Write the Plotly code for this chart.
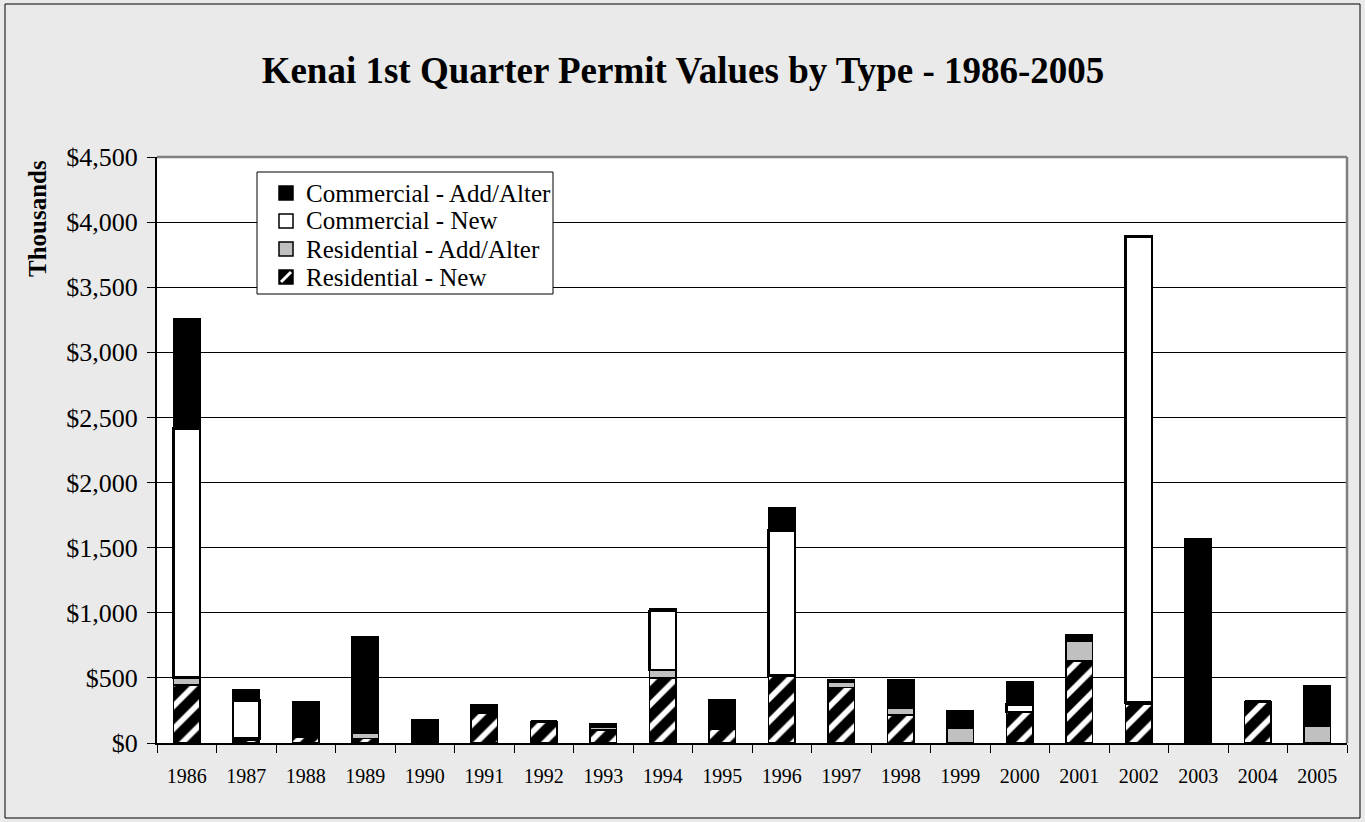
import plotly.graph_objects as go

years = [str(y) for y in range(1986, 2006)]
res_new = [445, 20, 50, 35, 0, 235, 165, 100, 500, 105, 515, 425, 215, 0, 240, 630, 297, 0, 320, 0]
res_aa = [57, 15, 0, 40, 0, 0, 0, 25, 60, 10, 5, 45, 55, 120, 0, 155, 15, 0, 0, 130]
com_new = [1913, 290, 0, 0, 0, 0, 0, 0, 455, 0, 1113, 0, 0, 0, 55, 0, 3578, 0, 0, 0]
com_aa = [840, 85, 265, 740, 180, 55, 0, 25, 15, 215, 175, 15, 215, 128, 177, 45, 0, 1565, 0, 308]
y_ticks = list(range(0, 4501, 500))
y_tick_labels = ["$0" if v == 0 else "${:,}".format(v) for v in y_ticks]
legend_names = ["Commercial - Add/Alter", "Commercial - New",
                "Residential - Add/Alter", "Residential - New"]

FONT = "Liberation Serif"
line = dict(color="black", width=1.5)

fig = go.Figure()
fig.add_trace(go.Bar(x=years, y=res_new, name=legend_names[3],
                     marker=dict(color="black", line=line,
                                 pattern=dict(shape="/", bgcolor="black", fgcolor="white",
                                              fgopacity=1, size=16, solidity=0.35,
                                              fillmode="replace"))))
fig.add_trace(go.Bar(x=years, y=res_aa, name=legend_names[2],
                     marker=dict(color="#C0C0C0", line=line)))
fig.add_trace(go.Bar(x=years, y=com_new, name=legend_names[1],
                     marker=dict(color="white", line=dict(color="black", width=2.5))))
fig.add_trace(go.Bar(x=years, y=com_aa, name=legend_names[0],
                     marker=dict(color="black", line=line)))

L, R, T, B = 157, 18, 157, 79
W, H = 1365, 822
pw, ph = W - L - R, H - T - B


def px(x):
    return (x - L) / pw


def py(y):
    return (T + ph - y) / ph


shapes = [
    dict(type="rect", xref="paper", yref="paper",
         x0=px(5), x1=px(1360), y0=py(818), y1=py(4),
         line=dict(color="black", width=1), fillcolor="rgba(0,0,0,0)", layer="below"),
    dict(type="line", xref="paper", yref="paper", x0=0, x1=1, y0=1, y1=1,
         line=dict(color="#808080", width=2.5)),
    dict(type="line", xref="paper", yref="paper", x0=1, x1=1, y0=0, y1=1,
         line=dict(color="#808080", width=2.5)),
    # legend box
    dict(type="rect", xref="paper", yref="paper",
         x0=px(257), x1=px(553), y0=py(294), y1=py(172),
         line=dict(color="black", width=1), fillcolor="white", layer="above"),
]

annotations = [
    dict(text="<b>Thousands</b>", textangle=-90, xref="paper", yref="paper",
         x=px(37), y=py(219), xanchor="center", yanchor="middle",
         showarrow=False, font=dict(size=25, family=FONT)),
]

row_y = [193, 221, 249, 277]
sym_fill = ["black", "white", "#C0C0C0", "black"]
for i, name in enumerate(legend_names):
    cy = row_y[i]
    shapes.append(dict(type="rect", xref="paper", yref="paper",
                       x0=px(279), x1=px(293), y0=py(cy + 7), y1=py(cy - 7),
                       line=dict(color="black", width=1.5), fillcolor=sym_fill[i],
                       layer="above"))
    if i == 3:
        shapes.append(dict(type="line", xref="paper", yref="paper",
                           x0=px(281), x1=px(291), y0=py(cy + 5), y1=py(cy - 5),
                           line=dict(color="white", width=3), layer="above"))
    annotations.append(dict(text=name, xref="paper", yref="paper",
                            x=px(304), y=py(cy), xanchor="left", yanchor="middle",
                            showarrow=False, font=dict(size=25, family=FONT)))

fig.update_layout(
    barmode="stack",
    bargap=0.56,
    showlegend=False,
    width=W, height=H,
    margin=dict(l=L, r=R, t=T, b=B),
    paper_bgcolor="#EAEAEA",
    plot_bgcolor="white",
    font=dict(family=FONT, color="black"),
    title=dict(text="<b>Kenai 1st Quarter Permit Values by Type - 1986-2005</b>",
               x=683 / W, xanchor="center", y=(H - 70) / H, yanchor="middle",
               font=dict(size=37, family=FONT)),
    xaxis=dict(type="category", tickson="boundaries", ticks="outside", ticklen=8,
               tickcolor="black", showline=True, linecolor="black", linewidth=1.5,
               tickfont=dict(size=20, family=FONT), showgrid=False,
               ticklabelstandoff=14),
    yaxis=dict(range=[0, 4500], tickvals=y_ticks, ticktext=y_tick_labels,
               ticks="outside", ticklen=8, tickcolor="black",
               showline=True, linecolor="black", linewidth=2,
               gridcolor="black", gridwidth=1, zeroline=False,
               tickfont=dict(size=26, family=FONT), ticklabelstandoff=4),
    annotations=annotations,
    shapes=shapes,
)

fig.write_html("out.html", config={"displayModeBar": False},
               post_script="document.body.style.margin='0';")
